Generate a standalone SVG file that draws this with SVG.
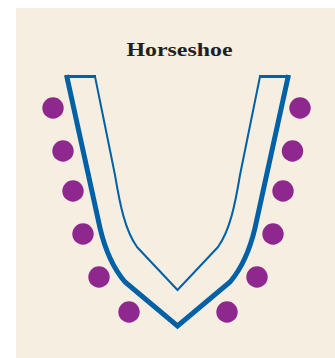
<svg xmlns="http://www.w3.org/2000/svg" width="335" height="358" viewBox="0 0 335 358">
<style>
.bg{fill:#F6EEE0}
.title{font-family:"Liberation Serif","DejaVu Serif",serif;font-weight:bold;font-size:19px;fill:#231F20}
.thick{fill:none;stroke:#0061A6;stroke-width:5;stroke-linejoin:miter}
.edge{fill:none;stroke:#0061A6;stroke-width:3}
.thin{fill:none;stroke:#0061A6;stroke-width:2;stroke-linejoin:miter}
.dot{fill:#8E288E}
</style>
<rect class="bg" x="16" y="8" width="319" height="350"/>
<text class="title" x="179.5" y="55.5" text-anchor="middle" textLength="106" lengthAdjust="spacingAndGlyphs">Horseshoe</text>
<g id="horseshoe">
<line class="edge" x1="65" y1="76.5" x2="96" y2="76.5"/>
<line class="edge" x1="259" y1="76.5" x2="290" y2="76.5"/>
<path class="thick" d="M66.5,75 L100,228 Q108,262 125,282 L177.5,326 L230,282 Q247,262 255,228 L288.5,75"/>
<path class="thin" d="M95,76.5 L115,175 C120,205 125,230 137,247 L177.5,290 L218,247 C230,230 235,205 240,175 L260,76.5"/>
</g>
<g id="seats-left">
<circle class="dot" cx="53" cy="108" r="10.7"/>
<circle class="dot" cx="63" cy="151" r="10.7"/>
<circle class="dot" cx="73" cy="191" r="10.7"/>
<circle class="dot" cx="83" cy="234" r="10.7"/>
<circle class="dot" cx="99" cy="277" r="10.7"/>
<circle class="dot" cx="129" cy="312" r="10.7"/>
</g>
<g id="seats-right">
<circle class="dot" cx="300" cy="108" r="10.7"/>
<circle class="dot" cx="292.5" cy="151" r="10.7"/>
<circle class="dot" cx="283" cy="191" r="10.7"/>
<circle class="dot" cx="273" cy="234" r="10.7"/>
<circle class="dot" cx="257" cy="277" r="10.7"/>
<circle class="dot" cx="227" cy="312" r="10.7"/>
</g>
</svg>
